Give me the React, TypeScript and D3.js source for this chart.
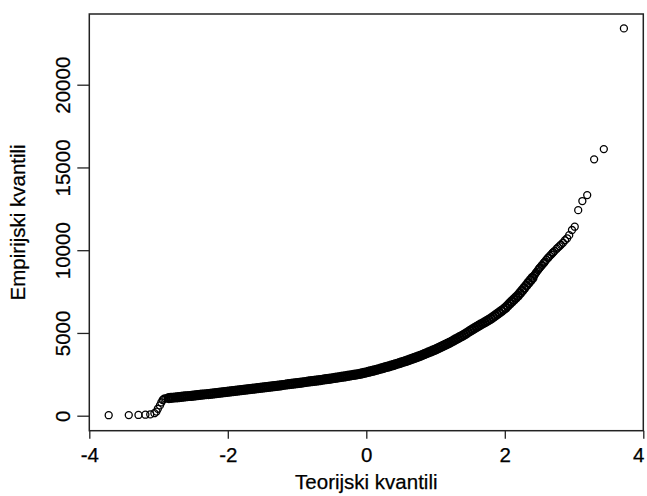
import * as d3 from 'd3';
import React, { useRef, useEffect } from 'react';

const lowerTail = [
  [-3.72, 30], [-3.43, 35], [-3.29, 45], [-3.19, 60], [-3.12, 80], [-3.06, 150],
  [-3.03, 250], [-3.01, 420], [-2.98, 620], [-2.96, 800], [-2.94, 950], [-2.92, 1030],
  [-2.90, 1045], [-2.87, 1055],
];

const body = [
  [-2.85, 1060], [-2.82, 1073], [-2.79, 1086], [-2.76, 1099], [-2.73, 1112], [-2.70, 1125],
  [-2.67, 1138], [-2.64, 1150], [-2.61, 1163], [-2.58, 1176], [-2.55, 1189], [-2.52, 1201],
  [-2.49, 1215], [-2.46, 1228], [-2.43, 1242], [-2.40, 1255], [-2.37, 1269], [-2.34, 1282],
  [-2.31, 1296], [-2.28, 1309], [-2.25, 1323], [-2.22, 1336], [-2.19, 1350], [-2.16, 1363],
  [-2.13, 1377], [-2.10, 1390], [-2.07, 1405], [-2.04, 1420], [-2.01, 1435], [-1.98, 1450],
  [-1.95, 1465], [-1.92, 1480], [-1.89, 1495], [-1.86, 1510], [-1.83, 1525], [-1.80, 1540],
  [-1.77, 1555], [-1.74, 1570], [-1.71, 1585], [-1.68, 1600], [-1.65, 1616], [-1.62, 1632],
  [-1.59, 1648], [-1.56, 1663], [-1.53, 1679], [-1.50, 1695], [-1.47, 1711], [-1.44, 1727],
  [-1.41, 1742], [-1.38, 1758], [-1.35, 1774], [-1.32, 1790], [-1.29, 1805], [-1.26, 1822],
  [-1.23, 1838], [-1.20, 1855], [-1.17, 1871], [-1.14, 1888], [-1.11, 1904], [-1.08, 1921],
  [-1.05, 1937], [-1.02, 1954], [-0.99, 1970], [-0.96, 1987], [-0.93, 2003], [-0.90, 2020],
  [-0.87, 2036], [-0.84, 2053], [-0.81, 2069], [-0.78, 2086], [-0.75, 2102], [-0.72, 2119],
  [-0.69, 2136], [-0.66, 2154], [-0.63, 2172], [-0.60, 2190], [-0.57, 2208], [-0.54, 2226],
  [-0.51, 2244], [-0.48, 2263], [-0.45, 2283], [-0.42, 2302], [-0.39, 2322], [-0.36, 2341],
  [-0.33, 2361], [-0.30, 2380], [-0.27, 2401], [-0.24, 2422], [-0.21, 2443], [-0.18, 2464],
  [-0.15, 2485], [-0.12, 2506], [-0.09, 2529], [-0.06, 2556], [-0.03, 2583], [0.00, 2610],
  [0.03, 2643], [0.06, 2676], [0.09, 2709], [0.12, 2742], [0.15, 2775], [0.18, 2808],
  [0.21, 2842], [0.24, 2878], [0.27, 2914], [0.30, 2950], [0.33, 2986], [0.36, 3022],
  [0.39, 3058], [0.42, 3097], [0.45, 3138], [0.48, 3178], [0.51, 3219], [0.54, 3259],
  [0.57, 3300], [0.60, 3340], [0.63, 3387], [0.66, 3433], [0.69, 3480], [0.72, 3526],
  [0.75, 3573], [0.78, 3619], [0.81, 3668], [0.84, 3720], [0.87, 3773], [0.90, 3825],
  [0.93, 3878], [0.96, 3930], [0.99, 3983], [1.02, 4040], [1.05, 4100], [1.08, 4160],
  [1.11, 4220], [1.14, 4280], [1.17, 4340], [1.20, 4400], [1.23, 4469], [1.26, 4538],
  [1.29, 4607], [1.32, 4676], [1.35, 4745], [1.38, 4814], [1.41, 4886], [1.44, 4964],
  [1.47, 5042], [1.50, 5120], [1.53, 5198], [1.56, 5276], [1.59, 5354], [1.62, 5428],
  [1.65, 5500], [1.68, 5572], [1.71, 5644], [1.74, 5716], [1.77, 5788], [1.80, 5860],
  [1.83, 5953], [1.86, 6046], [1.89, 6139], [1.92, 6232], [1.95, 6325], [1.98, 6418],
  [2.01, 6521], [2.04, 6644], [2.07, 6767], [2.10, 6890], [2.13, 7013], [2.16, 7136],
  [2.19, 7259], [2.22, 7403], [2.25, 7557], [2.28, 7712], [2.31, 7866], [2.34, 8021],
  [2.37, 8175], [2.40, 8330],
];

const upperTail = [
  [2.42, 8450], [2.43, 8510], [2.44, 8570], [2.45, 8630], [2.46, 8690], [2.48, 8800],
  [2.49, 8860], [2.50, 8920], [2.51, 8960], [2.53, 9060], [2.54, 9110], [2.56, 9210],
  [2.57, 9260], [2.58, 9310], [2.60, 9420], [2.62, 9520], [2.63, 9560], [2.65, 9660],
  [2.67, 9740], [2.69, 9830], [2.70, 9880], [2.72, 9960], [2.75, 10090], [2.77, 10170],
  [2.79, 10250], [2.81, 10330], [2.84, 10450], [2.87, 10600], [2.90, 10720], [2.93, 10910],
  [2.97, 11220], [3.01, 11420], [3.06, 12420], [3.12, 12970], [3.19, 13330], [3.29, 15490],
  [3.43, 16110], [3.72, 23400],
];

const xTicks = [-4, -2, 0, 2, 4];
const yTicks = [0, 5000, 10000, 15000, 20000];
const xTitle = 'Teorijski kvantili';
const yTitle = 'Empirijski kvantili';

const W = 647;
const H = 496;
const box = { left: 89.3, right: 643.3, top: 14, bottom: 430.7 };
const FONT = '"Liberation Sans", Arial, sans-serif';

function QQPlot() {
  const ref = useRef<SVGSVGElement>(null);

  useEffect(() => {
    const svg = d3.select(ref.current);
    svg.selectAll('*').remove();

    const x = d3.scaleLinear().domain([-4, 4]).range([box.left, box.right]);
    const y = d3.scaleLinear().domain([0, 20000]).range([415.7, 84.7]);

    // dense middle: heavier rings so the overplotted band reads solid, like the original
    svg.append('g')
      .selectAll('circle')
      .data(body)
      .enter()
      .append('circle')
      .attr('cx', (d) => x(d[0]))
      .attr('cy', (d) => y(d[1]))
      .attr('r', 4)
      .attr('fill', 'none')
      .attr('stroke', '#000')
      .attr('stroke-width', 2.2);

    svg.append('g')
      .selectAll('circle')
      .data([...lowerTail, ...upperTail])
      .enter()
      .append('circle')
      .attr('cx', (d) => x(d[0]))
      .attr('cy', (d) => y(d[1]))
      .attr('r', 3.5)
      .attr('fill', 'none')
      .attr('stroke', '#000')
      .attr('stroke-width', 1.3);

    const styleText = (sel) => sel
      .attr('fill', '#000')
      .attr('stroke', '#000')
      .attr('stroke-width', 0.25)
      .style('font-family', FONT)
      .style('font-size', '20.5px');

    // bottom axis
    const xAxis = svg.append('g')
      .attr('transform', `translate(0, ${box.bottom})`)
      .call(d3.axisBottom(x).tickValues(xTicks).tickSize(8).tickFormat((d) => String(d)));
    xAxis.select('.domain').remove();
    xAxis.selectAll('line').attr('stroke', '#222').attr('stroke-width', 1.3);
    xAxis.selectAll('text')
      .attr('y', 31)
      .attr('dy', null)
      .attr('dx', (d) => (d === 4 ? -5 : null))
      .call(styleText);

    // left axis
    const yAxis = svg.append('g')
      .attr('transform', `translate(${box.left}, 0)`)
      .call(d3.axisLeft(y).tickValues(yTicks).tickSize(12).tickFormat((d) => String(d)));
    yAxis.select('.domain').remove();
    yAxis.selectAll('line').attr('stroke', '#222').attr('stroke-width', 1.3);
    yAxis.selectAll('text')
      .attr('x', null)
      .attr('dy', null)
      .attr('transform', `translate(${70 - box.left}, 0) rotate(-90)`)
      .attr('text-anchor', 'middle')
      .call(styleText);

    svg.append('rect')
      .attr('x', box.left)
      .attr('y', box.top)
      .attr('width', box.right - box.left)
      .attr('height', box.bottom - box.top)
      .attr('fill', 'none')
      .attr('stroke', '#222')
      .attr('stroke-width', 1.5);

    svg.append('text')
      .attr('x', (box.left + box.right) / 2)
      .attr('y', 489)
      .attr('text-anchor', 'middle')
      .call(styleText)
      .text(xTitle);

    svg.append('text')
      .attr('transform', `translate(25, ${(box.top + box.bottom) / 2}) rotate(-90)`)
      .attr('text-anchor', 'middle')
      .call(styleText)
      .text(yTitle);
  }, []);

  return (
    <svg ref={ref} width={W} height={H}
      style={{ position: 'absolute', left: 0, top: 0, background: '#fff' }} />
  );
}

export default function App() {
  return <QQPlot />;
}
